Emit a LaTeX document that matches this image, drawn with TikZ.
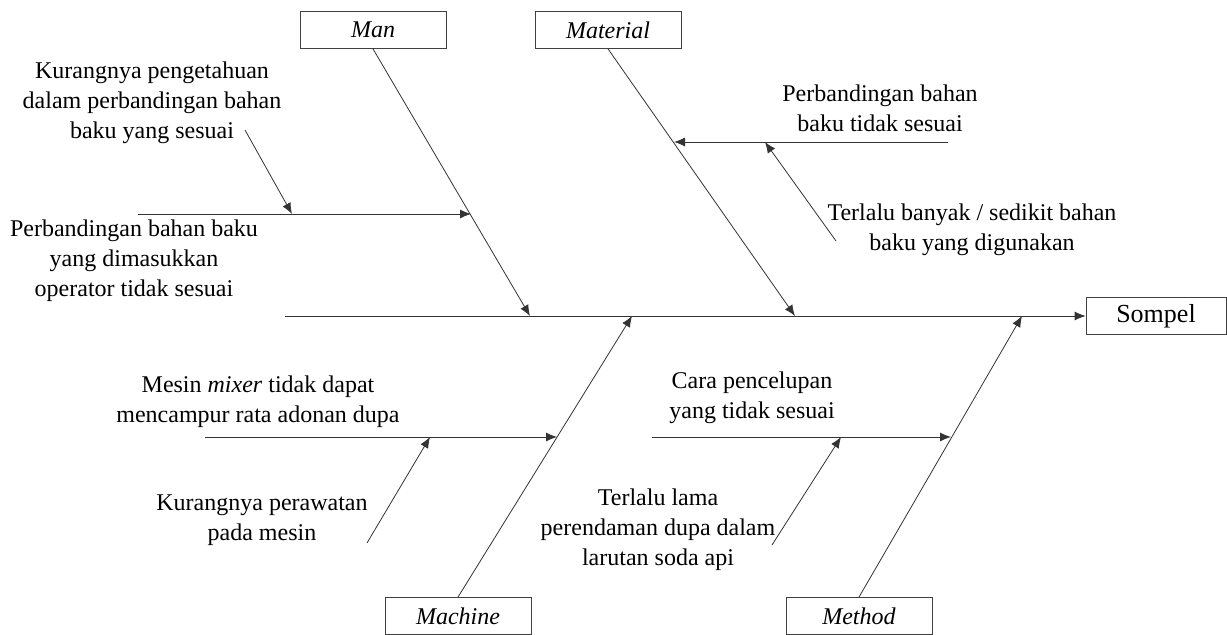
\documentclass[tikz,border=0pt]{standalone}
\usepackage{fontspec}
\setmainfont{Liberation Serif}
\usepackage{tikz}
\usetikzlibrary{arrows.meta}

\begin{document}
\begin{tikzpicture}[
        x=0.5pt, y=-0.5pt,
        every node/.style={font=\fontsize{12}{15}\selectfont},
        category/.style={draw=black!75, minimum width=73pt, minimum height=18.5pt, inner sep=0pt, font=\fontsize{12}{15}\selectfont\itshape},
        effect/.style={draw=black!75, minimum width=70pt, minimum height=18.5pt, inner sep=0pt, font=\fontsize{13}{15}\selectfont},
        cause/.style={align=center, inner sep=0pt},
        bone/.style={draw=black!80, -{Latex[length=5.5pt,width=4.5pt]}}
        ]
        \useasboundingbox (0,0) rectangle (1227,635);

        % Categories and effect
        \node[category] (man) at (373,30) {Man};
        \node[category] (material) at (608,30) {Material};
        \node[category] (machine) at (458,616) {Machine};
        \node[category] (method) at (859,616) {Method};
        \node[effect] (sompel) at (1156,316) {Sompel};

        % Spine
        \coordinate (tail) at (285,316);
        \draw[bone] (tail) -- (sompel.west);

        % Main bones
        \coordinate (manend) at (530,316);
        \coordinate (materialend) at (795,316);
        \coordinate (machineend) at (632,316);
        \coordinate (methodend) at (1022,316);
        \draw[bone] (man.south) -- (manend);
        \draw[bone] (material.south) -- (materialend);
        \draw[bone] (machine.north) -- (machineend);
        \draw[bone] (method.north) -- (methodend);

        % Man
        \node[cause] (manlack) at (152,103) {Kurangnya pengetahuan\\dalam perbandingan bahan\\baku yang sesuai};
        \node[cause] (manratio) at (134,261) {Perbandingan bahan baku\\yang dimasukkan\\operator tidak sesuai};
        \coordinate (manratiostart) at (138,214);
        \coordinate (manratioend) at (471,214);
        \coordinate (manlackstart) at (245,130);
        \coordinate (manlackend) at (292,214);
        \draw[bone] (manratiostart) -- (manratioend);
        \draw[bone] (manlackstart) -- (manlackend);

        % Material
        \node[cause] (matratio) at (880,108) {Perbandingan bahan\\baku tidak sesuai};
        \node[cause] (matamount) at (972,230) {Terlalu banyak / sedikit bahan\\baku yang digunakan};
        \coordinate (matratiostart) at (948,142);
        \coordinate (matratioend) at (674,142);
        \coordinate (matamountstart) at (836,241);
        \coordinate (matamountend) at (765,142);
        \draw[bone] (matratiostart) -- (matratioend);
        \draw[bone] (matamountstart) -- (matamountend);

        % Machine
        \node[cause] (mixer) at (258,402) {Mesin \textit{mixer} tidak dapat\\mencampur rata adonan dupa};
        \node[cause] (care) at (262,520) {Kurangnya perawatan\\pada mesin};
        \coordinate (mixerstart) at (205,437);
        \coordinate (mixerend) at (557,437);
        \coordinate (carestart) at (367,543);
        \coordinate (careend) at (430,437);
        \draw[bone] (mixerstart) -- (mixerend);
        \draw[bone] (carestart) -- (careend);

        % Method
        \node[cause] (dip) at (752,398) {Cara pencelupan\\yang tidak sesuai};
        \node[cause] (soak) at (658,530) {Terlalu lama\\perendaman dupa dalam\\larutan soda api};
        \coordinate (dipstart) at (652,437);
        \coordinate (dipend) at (951,437);
        \coordinate (soakstart) at (772,545);
        \coordinate (soakend) at (841,437);
        \draw[bone] (dipstart) -- (dipend);
        \draw[bone] (soakstart) -- (soakend);
\end{tikzpicture}
\end{document}
